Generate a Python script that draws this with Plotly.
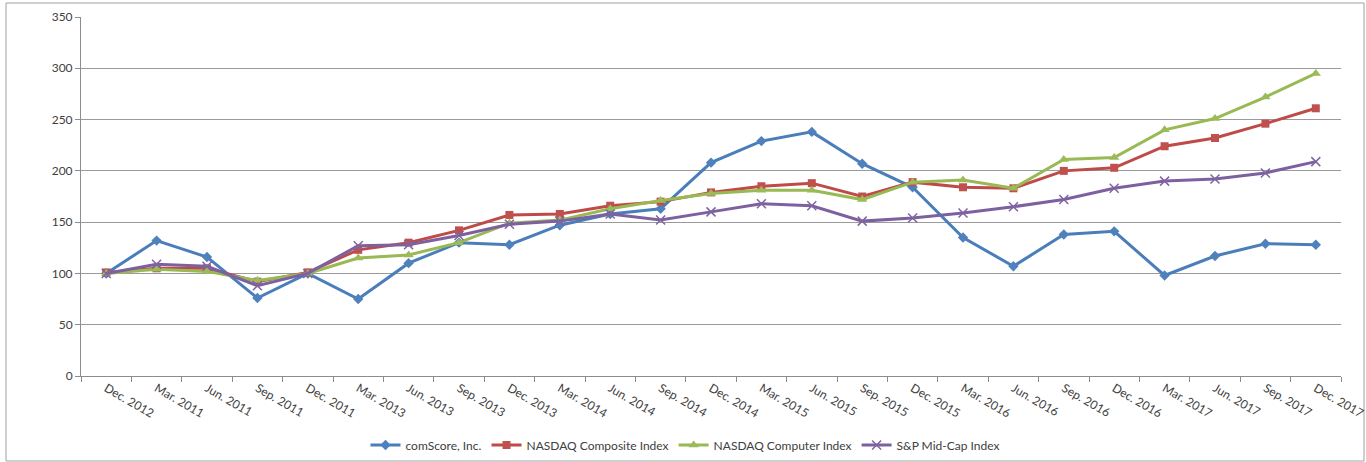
import plotly.graph_objects as go

categories = ["Dec. 2012", "Mar. 2011", "Jun. 2011", "Sep. 2011", "Dec. 2011",
              "Mar. 2013", "Jun. 2013", "Sep. 2013", "Dec. 2013", "Mar. 2014",
              "Jun. 2014", "Sep. 2014", "Dec. 2014", "Mar. 2015", "Jun. 2015",
              "Sep. 2015", "Dec. 2015", "Mar. 2016", "Jun. 2016", "Sep. 2016",
              "Dec. 2016", "Mar. 2017", "Jun. 2017", "Sep. 2017", "Dec. 2017"]

comscore = [100, 132, 116, 76, 100, 75, 110, 130, 128, 147, 158, 163, 208, 229, 238,
            207, 184, 135, 107, 138, 141, 98, 117, 129, 128]
nasdaq_composite = [101, 105, 105, 92, 101, 123, 130, 142, 157, 158, 166, 170, 179, 185, 188,
                    175, 189, 184, 183, 200, 203, 224, 232, 246, 261]
nasdaq_computer = [100, 104, 102, 93, 100, 115, 118, 130, 149, 152, 163, 171, 178, 181, 181,
                   172, 189, 191, 183, 211, 213, 240, 251, 272, 295]
sp_midcap = [100, 109, 107, 88, 100, 127, 128, 137, 148, 151, 158, 152, 160, 168, 166,
             151, 154, 159, 165, 172, 183, 190, 192, 198, 209]

series = [
    ("comScore, Inc.", comscore, "#4a7ebb", dict(symbol="diamond", size=8, color="#4f81bd")),
    ("NASDAQ Composite Index", nasdaq_composite, "#be4b48", dict(symbol="square", size=8, color="#c0504d")),
    ("NASDAQ Computer Index", nasdaq_computer, "#98b954", dict(symbol="triangle-up", size=9, color="#9bbb59")),
    ("S&P Mid-Cap Index", sp_midcap, "#7d60a0", dict(symbol="x-thin", size=9, color="#8064a2",
                                                    line=dict(width=1.5, color="#8064a2"))),
]

fig = go.Figure()
for name, vals, col, mk in series:
    fig.add_trace(go.Scatter(x=categories, y=vals, name=name, mode="lines+markers",
                             line=dict(color=col, width=3), marker=mk))

font = "Lato, 'Open Sans', sans-serif"
fig.update_layout(
    width=1366, height=462, autosize=False,
    margin=dict(l=81, r=25, t=17, b=86),
    paper_bgcolor="white", plot_bgcolor="white",
    font=dict(family=font, size=12, color="#404040"),
    showlegend=True,
    legend=dict(orientation="h", xref="container", yref="container",
                x=685 / 1366, xanchor="center", y=(462 - 445) / 462, yanchor="middle",
                font=dict(size=12, color="#404040"), itemwidth=30, tracegroupgap=0),
    xaxis=dict(type="category", range=[-0.5, len(categories) - 0.5], autorange=False,
               automargin=False, showgrid=False, showline=True, linecolor="#8c8c8c", linewidth=1,
               ticks="outside", tickson="boundaries", ticklen=5, tickcolor="#8c8c8c",
               tickangle=30, tickfont=dict(size=12, color="#404040"), zeroline=False),
    yaxis=dict(range=[0, 350], autorange=False, automargin=False, dtick=50, showgrid=True,
               gridcolor="#9a9a9a", gridwidth=1,
               showline=True, linecolor="#8c8c8c", linewidth=1, ticks="outside", ticklen=5,
               tickcolor="#8c8c8c", tickfont=dict(size=12, color="#404040"), zeroline=False),
    shapes=[dict(type="rect", xref="paper", yref="paper",
                 x0=(6 - 81) / 1260, x1=(1364 - 81) / 1260,
                 y0=(376 - 461) / 359, y1=(376 - 3) / 359,
                 line=dict(color="#a0a0a0", width=1), fillcolor="rgba(0,0,0,0)", layer="below")],
)

fig.write_html("out.html", config={"responsive": False, "displayModeBar": False},
               post_script="document.body.style.margin='0px';document.body.style.overflow='hidden';")
